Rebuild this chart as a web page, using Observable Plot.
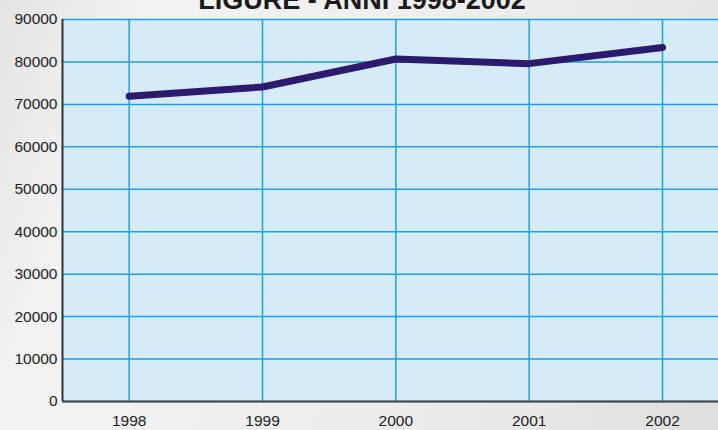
<!DOCTYPE html>
<html>
<head>
<meta charset="utf-8">
<script src="https://cdn.jsdelivr.net/npm/d3@7"></script>
<script src="https://cdn.jsdelivr.net/npm/@observablehq/plot@0.6"></script>
<style>
html, body { margin:0; padding:0; }
body { width:718px; height:430px; overflow:hidden; position:relative;
  background: linear-gradient(110deg, #e4e4e4 0%, #f3f3f3 18%, #efefef 45%, #e9e9e9 75%, #dedede 100%);
  font-family: "Liberation Sans", Arial, sans-serif; }
#title { position:absolute; left:0; width:724px; top:-13px; text-align:center;
  font-size:27px; line-height:27px; font-weight:bold; color:#1a1a1a; white-space:nowrap; z-index:2; }
#chart { position:absolute; left:0; top:0; }
</style>
</head>
<body>
<div id="title">LIGURE - ANNI 1998-2002</div>
<div id="chart"></div>
<script>
const years = [1998, 1999, 2000, 2001, 2002];
const values = [71900, 74100, 80700, 79600, 83400];
const yTicks = [0, 10000, 20000, 30000, 40000, 50000, 60000, 70000, 80000, 90000];

const data = years.map((y, i) => ({year: y, value: values[i]}));
const gridColor = "#1ea1e4";

const chart = Plot.plot({
  width: 718,
  height: 430,
  marginLeft: 62,
  marginRight: 0,
  marginTop: 19,
  marginBottom: 29,
  style: {background: "transparent", fontFamily: "'Liberation Sans', Arial, sans-serif", fontSize: "15.5px", color: "#222"},
  x: {domain: [1997.5, 2002.42], label: null},
  y: {domain: [0, 90000], label: null},
  marks: [
    Plot.frame({fill: "#d5ecf8", stroke: null}),
    Plot.gridX(years, {stroke: gridColor, strokeOpacity: 1, strokeWidth: 1.5}),
    Plot.gridY(yTicks, {stroke: gridColor, strokeOpacity: 1, strokeWidth: 1.5}),
    Plot.axisX(years, {tickSize: 0, tickPadding: 13, tickFormat: d => String(d), fill: "#222"}),
    Plot.axisY(yTicks, {tickSize: 0, tickPadding: 5, tickFormat: d => String(d), fill: "#222"}),
    Plot.ruleX([1997.5], {stroke: "#333", strokeWidth: 2}),
    Plot.ruleY([0], {stroke: "#444", strokeWidth: 2}),
    Plot.line(data, {x: "year", y: "value", stroke: "#2b1a6e", strokeWidth: 7, strokeLinecap: "round", strokeLinejoin: "round"})
  ]
});
document.getElementById("chart").appendChild(chart);
</script>
</body>
</html>
